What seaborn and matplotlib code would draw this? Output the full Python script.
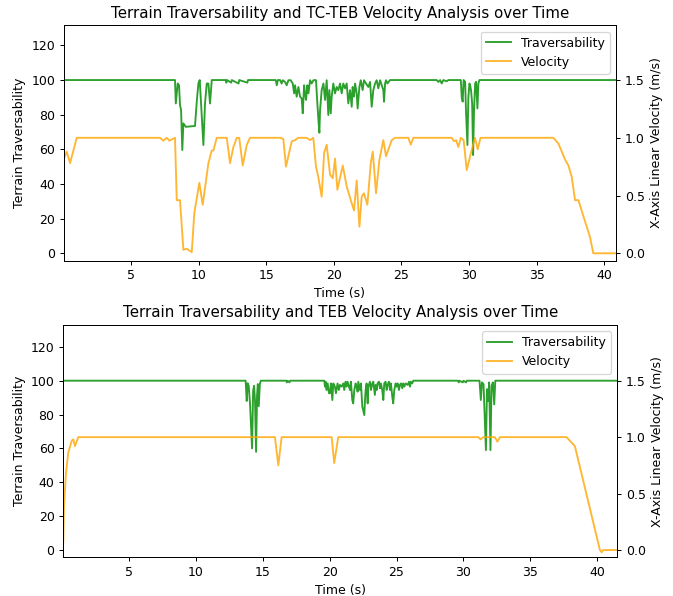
import numpy as np
import pandas as pd
import matplotlib
matplotlib.use("Agg")
import matplotlib.pyplot as plt
import seaborn as sns

# ---------------- data: top panel (TC-TEB) ----------------
top_vel_t = [0.04, 0.24, 0.49, 0.98, 7.14, 7.39, 7.64, 7.83, 8.25,
             8.38, 8.62, 8.87, 9.12, 9.49, 9.68, 10.05, 10.3, 10.72, 10.97,
             11.09, 11.34, 12.08, 12.32, 12.57, 12.82, 13.0, 13.26, 13.56, 13.8,
             16.02, 16.26, 16.46, 16.71, 16.89, 17.13, 17.37, 17.99, 18.24, 18.48,
             18.68, 18.85, 19.1, 19.28, 19.47, 19.72, 19.92, 20.09, 20.26, 20.66,
             20.95, 21.2, 21.49, 21.69, 21.89, 22.06, 22.23, 22.48, 22.73, 22.88,
             23.12, 23.37, 23.66, 23.86, 24.28, 24.53, 25.51, 25.69, 25.88, 28.72,
             28.89, 29.04, 29.21, 29.39, 29.6, 29.83, 30.1, 30.32, 30.44, 30.64,
             30.85, 36.24, 36.61, 37.11, 37.35, 37.6, 37.84, 38.09, 38.46, 38.95,
             39.19, 40.87]
top_vel = [0.82, 0.88, 0.78, 1.0, 1.0, 0.975, 1.0, 0.975, 1.0,
           0.46, 0.46, 0.03, 0.04, 0.01, 0.35, 0.61, 0.42, 0.78, 0.89,
           0.89, 1.0, 1.0, 0.78, 0.92, 1.0, 1.0, 0.76, 0.94, 1.0,
           1.0, 0.99, 0.75, 0.88, 0.97, 0.98, 1.0, 1.0, 0.98, 1.0,
           0.75, 0.66, 0.49, 0.87, 0.94, 0.68, 0.65, 0.82, 0.55, 0.76,
           0.58, 0.48, 0.37, 0.63, 0.23, 0.49, 0.52, 0.42, 0.78, 0.88,
           0.52, 0.81, 0.98, 0.84, 0.98, 1.0, 1.0, 0.94, 1.0, 1.0,
           0.97, 0.98, 0.92, 1.0, 0.98, 0.72, 0.85, 0.95, 1.0, 0.9,
           1.0, 1.0, 0.95, 0.81, 0.76, 0.66, 0.46, 0.46, 0.32, 0.14,
           0.0, 0.0]

top_trav_t = [0.04, 8.25, 8.31, 8.45, 8.55, 8.62, 8.7, 8.79, 8.87, 9.05,
              9.73, 9.86, 9.98, 10.08, 10.18, 10.27, 10.35, 10.47, 10.6, 10.72,
              10.84, 10.97, 12.0, 12.05, 12.1, 12.4, 12.45, 12.95, 13.0, 13.6,
              13.65, 15.7, 15.78, 15.86,
              16.02, 16.14, 16.22, 16.39, 16.51, 16.64, 16.81, 16.96, 17.06, 17.13,
              17.25, 17.38, 17.5, 17.62, 17.7, 17.8, 17.87, 17.94, 18.04, 18.12,
              18.24, 18.36, 18.49, 18.61, 18.68, 18.78, 18.86, 18.93, 18.98, 19.1,
              19.23, 19.35, 19.47, 19.59, 19.67, 19.77, 19.84, 19.96, 20.09, 20.21,
              20.33, 20.46, 20.58, 20.7, 20.83, 20.95, 21.07, 21.2, 21.32, 21.39,
              21.49, 21.57, 21.69, 21.76, 21.89, 21.99, 22.13, 22.23, 22.38, 22.55,
              22.68, 22.8, 22.92, 23.05, 23.17, 23.29, 23.42, 23.54, 23.66, 23.71,
              23.79, 23.86, 23.96, 24.16,
              27.61, 27.73, 27.86, 27.98, 28.1, 28.35, 28.47,
              29.39, 29.46, 29.53, 29.6, 29.71, 29.78, 29.88, 29.95, 30.03, 30.08,
              30.15, 30.23, 30.3, 30.37, 30.45, 30.52, 30.62, 30.69, 30.77, 40.87]
top_trav = [100, 100, 86.5, 98, 97, 85.6, 82.7, 59.6, 75, 73,
            73.5, 87.5, 98, 100, 86.5, 75, 62.5, 86.5, 98, 98,
            86.5, 100, 100, 98.5, 100, 98.5, 100, 98, 100, 98.5,
            100, 100, 97, 100,
            100, 98, 99.9, 98.9, 97, 99.9, 99.9, 98, 92.3, 97,
            90.4, 96, 90.4, 89.4, 80.8, 97, 92.3, 88.5, 97, 92.3,
            99.9, 98, 99.9, 100, 99.9, 86.5, 76.9, 69.6, 82.7, 94.2,
            98, 88.5, 99.9, 79.8, 94.2, 80.8, 90.4, 98, 92.3, 96,
            94.2, 98, 92.3, 98, 95.2, 98, 86.5, 94.2, 84.6, 96,
            90.4, 98, 92.3, 83.6, 96, 99.9, 94.2, 99.9, 98, 96,
            98.9, 84.6, 94.2, 98, 99.9, 95.2, 99.9, 97, 94.2, 87.5,
            98, 99.9, 98, 100,
            100, 98.9, 100, 98, 100, 99.3, 100,
            100, 90, 87.5, 100, 99, 81, 62.5, 90, 98, 97,
            94, 86.5, 56.7, 82.7, 98, 99, 83.6, 98, 100, 100]

# ---------------- data: bottom panel (TEB) ----------------
bot_vel_t = [0.09, 0.14, 0.29, 0.46, 0.72, 0.84, 0.96, 1.21, 15.91, 16.16,
             16.41, 20.15, 20.34, 20.64, 31.11, 31.28, 31.48, 32.35, 32.53, 32.73,
             37.71, 38.33, 40.2, 40.33, 40.45, 41.5]
bot_vel = [0.07, 0.38, 0.68, 0.86, 0.97, 0.98, 0.92, 1.0, 1.0, 0.75,
           1.0, 1.0, 0.77, 1.0, 1.0, 0.98, 1.0, 1.0, 0.96, 1.0,
           1.0, 0.92, 0.0, -0.02, 0.0, 0.0]

bot_trav_t = [0.09, 13.72, 13.8, 13.87, 13.95, 14.05, 14.2, 14.28, 14.35, 14.42,
              14.5, 14.57, 14.63, 14.7, 14.78, 14.85, 16.75, 16.8, 16.85, 17.0,
              17.05,
              19.6, 19.65, 19.7, 19.77, 19.85, 19.95, 20.02, 20.1, 20.2, 20.27,
              20.39, 20.47, 20.59, 20.69, 20.77, 20.89, 21.02, 21.09, 21.19, 21.27,
              21.34, 21.44, 21.52, 21.59, 21.69, 21.76, 21.84, 21.94, 22.01, 22.09,
              22.14, 22.26, 22.34, 22.44, 22.59, 22.64, 22.69, 22.76, 22.84, 22.89,
              23.01, 23.09, 23.19, 23.26, 23.38, 23.43, 23.51, 23.58, 23.68, 23.76,
              23.83, 23.93, 24.01, 24.08, 24.18, 24.26, 24.33, 24.43, 24.51, 24.58,
              24.68, 24.75, 24.83, 24.93, 25.0, 25.08, 25.18, 25.25, 25.33, 25.43,
              25.5, 25.58, 25.68, 25.83, 25.93, 26.0, 26.07, 26.17, 26.25, 26.37,
              29.6, 29.65, 29.7, 29.95, 30.0, 30.2, 30.25,
              31.2, 31.3, 31.38, 31.5, 31.68, 31.76, 31.85, 31.92, 32.02, 32.1,
              32.2, 32.3, 32.38, 41.5]
bot_trav = [100, 100, 88, 98.5, 97, 86, 60, 94, 97, 88,
            58, 91, 98, 85, 98, 100, 100, 99, 100, 99,
            100,
            100, 96.5, 99.4, 94.5, 98.4, 92.6, 92.6, 98.4, 88.6, 98.4,
            96.5, 92.6, 98.4, 94.5, 97.5, 96.5, 98.4, 94.5, 99.4, 96.5,
            99.4, 96.5, 94.5, 99.4, 88.6, 86.6, 94.5, 98.4, 96.5, 93.5,
            99.4, 94.5, 98.4, 84.7, 79.7, 88.6, 94.5, 98.4, 86.6, 96.5,
            99.4, 94.5, 98.4, 99.4, 91.6, 97.5, 94.5, 98.4, 99.4, 95.5,
            98.4, 94.5, 88.6, 98.4, 99.4, 94.5, 97.5, 99.4, 94.5, 98.4,
            90.6, 86.6, 94.5, 98.4, 96.5, 98.4, 94.5, 97.5, 98.4, 95.5,
            98.4, 96.5, 98.4, 97.5, 99.4, 96.5, 99.4, 98.4, 100, 100,
            100, 99, 100, 99, 100, 99, 100,
            100, 88.6, 99, 98, 59, 95, 88, 99, 59, 97,
            99, 86, 100, 100]

titles = ["Terrain Traversability and TC-TEB Velocity Analysis over Time",
          "Terrain Traversability and TEB Velocity Analysis over Time"]
trav_yticks = [0, 20, 40, 60, 80, 100, 120]
vel_yticks = [0.0, 0.5, 1.0, 1.5]

plt.rcParams['font.family'] = ['DejaVu Sans']
GREEN = '#2ca02c'
ORANGE = 'orange'
DPI = 90

fig = plt.figure(figsize=(673 / DPI, 596 / DPI), dpi=DPI)


def panel(rect, title, t_tr, tr, t_v, v, xlim, ylim):
    ax1 = fig.add_axes(rect)
    df_tr = pd.DataFrame({'t': t_tr, 'y': tr})
    df_v = pd.DataFrame({'t': t_v, 'y': v})
    sns.lineplot(data=df_tr, x='t', y='y', ax=ax1, color=GREEN, lw=1.5,
                 estimator=None, sort=False, legend=False)
    ax2 = ax1.twinx()
    sns.lineplot(data=df_v, x='t', y='y', ax=ax2, color=ORANGE, alpha=0.8,
                 lw=1.5, estimator=None, sort=False, legend=False)
    ax1.set_xlim(*xlim)
    ax1.set_ylim(*ylim)
    ax2.set_ylim(ylim[0] * 0.015, ylim[1] * 0.015)
    ax1.set_yticks(trav_yticks)
    ax2.set_yticks(vel_yticks)
    ax1.set_xlabel('Time (s)')
    ax1.set_ylabel('Terrain Traversability')
    ax2.set_ylabel('X-Axis Linear Velocity (m/s)')
    ax1.set_title(title)
    handles = [ax1.get_lines()[0], ax2.get_lines()[0]]
    ax2.legend(handles, ['Traversability', 'Velocity'], loc='upper right')
    return ax1, ax2


panel([64 / 673, 1 - 260.7 / 596, 552 / 673, 235.4 / 596], titles[0],
      top_trav_t, top_trav, top_vel_t, top_vel, (0.04, 40.87), (-4.27, 131.6))
panel([63.3 / 673, 1 - 557.3 / 596, 554 / 673, 232.3 / 596], titles[1],
      bot_trav_t, bot_trav, bot_vel_t, bot_vel, (0.09, 41.5), (-4.3, 132.9))

fig.savefig('out.png', dpi=DPI)
